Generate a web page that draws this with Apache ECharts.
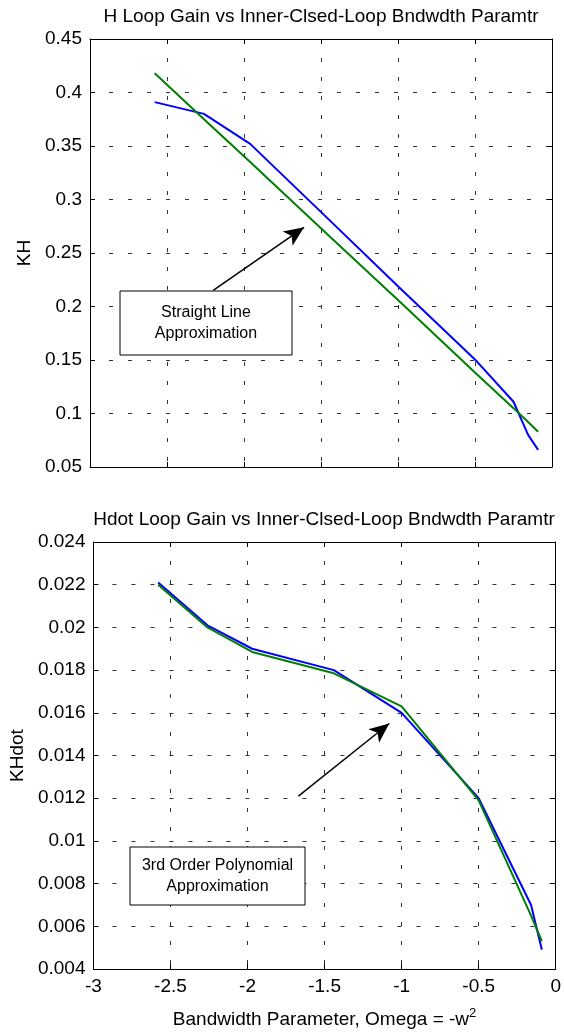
<!DOCTYPE html>
<html>
<head>
<meta charset="utf-8">
<script src="https://cdn.jsdelivr.net/npm/echarts/dist/echarts.min.js"></script>
<style>
html,body{margin:0;padding:0;background:#fff;}
#chart{width:564px;height:1034px;}
</style>
</head>
<body>
<div id="chart"></div>
<script>
// ---- data ----
const topTitle = 'H Loop Gain vs Inner-Clsed-Loop Bndwdth Paramtr';
const botTitle = 'Hdot Loop Gain vs Inner-Clsed-Loop Bndwdth Paramtr';
const topX = [-2.58, -2.26, -1.96, -1.44, -1.0, -0.49, -0.25, -0.155, -0.09];
const topBlue = [0.391, 0.380, 0.352, 0.280, 0.219, 0.149, 0.111, 0.080, 0.066];
const topGreen = [0.418, 0.375, 0.335, 0.265, 0.206, 0.137, 0.105, 0.092, 0.083];
const botX = [-2.58, -2.26, -1.97, -1.44, -1.0, -0.5, -0.16, -0.09];
const botBlue = [0.0221, 0.0201, 0.0190, 0.0180, 0.0160, 0.0120, 0.0070, 0.0049];
const botGreen = [0.0220, 0.0200, 0.01885, 0.01785, 0.0163, 0.0119, 0.0065, 0.0053];
const topNote = ['Straight Line', 'Approximation'];
const botNote = ['3rd Order Polynomial', 'Approximation'];
const topArrow = [[-2.20, 0.215], [-1.61, 0.274]];
const botArrow = [[-1.67, 0.0121], [-1.08, 0.0155]];

const FONT = "'Liberation Sans', Arial, Helvetica, sans-serif";
const pair = (xs, ys) => xs.map((x, i) => [x, ys[i]]);
const trim = v => String(parseFloat(v.toFixed(4)));

const gridLine = {show: true, lineStyle: {color: '#333', width: 1, type: [4, 15]}};
const axLine = {show: true, onZero: false, lineStyle: {color: '#000', width: 1}};
const tick = {show: true, inside: true, length: 5, lineStyle: {color: '#000'}};
const lbl = {color: '#000', fontFamily: FONT, fontSize: 19};

function xAxes(gi, showLabels, name) {
  return [
    {type: 'value', gridIndex: gi, position: 'bottom', min: -3, max: 0, interval: 0.5,
     axisLine: axLine, axisTick: tick, splitLine: gridLine,
     axisLabel: Object.assign({show: showLabels, margin: 8, formatter: trim}, lbl),
     name: name || '', nameLocation: 'middle', nameGap: 38,
     nameTextStyle: {color: '#000', fontFamily: FONT, fontSize: 19,
       rich: {sup: {fontSize: 13, fontFamily: FONT, color: '#000', padding: [0, 0, 12, 0]}}}},
    {type: 'value', gridIndex: gi, position: 'top', min: -3, max: 0, interval: 0.5,
     axisLine: axLine, axisTick: tick, splitLine: {show: false}, axisLabel: {show: false}}
  ];
}
function yAxes(gi, min, max, itv, name, gap) {
  return [
    {type: 'value', gridIndex: gi, position: 'left', min: min, max: max, interval: itv,
     axisLine: axLine, axisTick: tick, splitLine: gridLine,
     axisLabel: Object.assign({margin: 8, formatter: trim}, lbl),
     name: name, nameLocation: 'middle', nameGap: gap, nameRotate: 90,
     nameTextStyle: {color: '#000', fontFamily: FONT, fontSize: 19}},
    {type: 'value', gridIndex: gi, position: 'right', min: min, max: max, interval: itv,
     axisLine: axLine, axisTick: tick, splitLine: {show: false}, axisLabel: {show: false}}
  ];
}
function arrowLine(a) {
  return {silent: true, animation: false, symbol: ['none', 'arrow'], symbolSize: [13, 20],
    label: {show: false}, lineStyle: {color: '#000', width: 1.5, type: 'solid'},
    emphasis: {disabled: true},
    data: [[{coord: a[0], symbol: 'none'}, {coord: a[1], symbol: 'arrow'}]]};
}
function line(xi, yi, data, color, ml) {
  const s = {type: 'line', xAxisIndex: xi, yAxisIndex: yi, data: data, showSymbol: false,
    symbol: 'none', lineStyle: {color: color, width: 2}, itemStyle: {color: color},
    emphasis: {disabled: true}, animation: false};
  if (ml) s.markLine = ml;
  return s;
}
function note(lines, x, y, w, h) {
  const els = [{type: 'rect', z: 100, shape: {x: x, y: y, width: w, height: h},
    style: {fill: '#fff', stroke: '#000', lineWidth: 1}}];
  els.push({type: 'text', z: 101, x: x + w / 2, y: y + h / 2,
    style: {text: lines.join('\n'), font: '16px ' + FONT, fill: '#000',
      align: 'center', verticalAlign: 'middle', textAlign: 'center',
      textVerticalAlign: 'middle', lineHeight: 21}});
  return els;
}
function titleEl(t, x, y) {
  return {type: 'text', z: 100, x: x, y: y,
    style: {text: t, font: '19px ' + FONT, fill: '#000', align: 'center',
      verticalAlign: 'middle', textAlign: 'center', textVerticalAlign: 'middle'}};
}

const chart = echarts.init(document.getElementById('chart'), null, {renderer: 'canvas'});
chart.setOption({
  backgroundColor: '#fff',
  animation: false,
  grid: [
    {left: 90, right: 12, top: 39, height: 428, containLabel: false},
    {left: 92, right: 8, top: 542, height: 427, containLabel: false}
  ],
  xAxis: [].concat(xAxes(0, false), xAxes(1, true, 'Bandwidth Parameter, Omega = -w{sup|2}')),
  yAxis: [].concat(yAxes(0, 0.05, 0.45, 0.05, 'KH', 52), yAxes(1, 0.004, 0.024, 0.002, 'KHdot', 64)),
  series: [
    line(0, 0, pair(topX, topBlue), '#0000ff'),
    line(0, 0, pair(topX, topGreen), '#008000', arrowLine(topArrow)),
    line(2, 2, pair(botX, botBlue), '#0000ff'),
    line(2, 2, pair(botX, botGreen), '#008000', arrowLine(botArrow))
  ],
  graphic: [].concat(
    [titleEl(topTitle, 321, 17), titleEl(botTitle, 324, 520)],
    note(topNote, 120, 291, 172, 64),
    note(botNote, 130, 847, 175, 58)
  )
});
</script>
</body>
</html>
